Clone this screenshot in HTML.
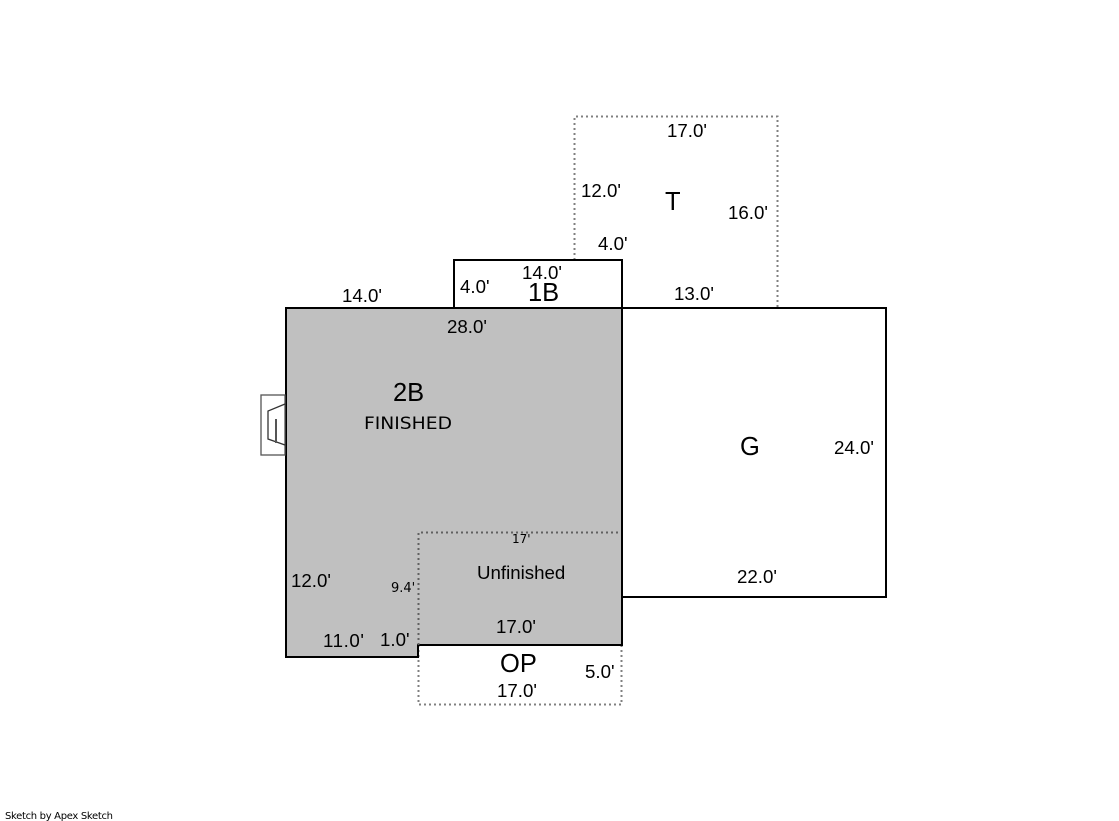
<!DOCTYPE html>
<html>
<head>
<meta charset="utf-8">
<style>
html,body{margin:0;padding:0;background:#fff;}
svg{display:block;}
text{font-family:"Liberation Sans",Arial,sans-serif;fill:#000;}
.d{font-size:18.7px;}
.l{font-size:25.500px;}
</style>
</head>
<body>
<svg width="1119" height="821" viewBox="0 0 1119 821" xmlns="http://www.w3.org/2000/svg">
<rect width="1119" height="821" fill="#fff"/>
<!-- T -->
<path d="M574.500 260V116.500H777.500V308" fill="none" stroke="#808080" stroke-width="2" stroke-dasharray="2 3"/>
<!-- OP -->
<path d="M418.500 645V704.500H621.500V645" fill="none" stroke="#808080" stroke-width="2" stroke-dasharray="2 3"/>
<!-- 2B -->
<path d="M286 308H622V645H418V657H286Z" fill="#c0c0c0" stroke="#000" stroke-width="2"/>
<!-- Unfinished -->
<path d="M418.500 645V532.500H621" fill="none" stroke="#606060" stroke-width="2" stroke-dasharray="2 3"/>
<!-- G -->
<path d="M622 308H886V597H622" fill="none" stroke="#000" stroke-width="2"/>
<!-- 1B -->
<path d="M454 308V260H622V308" fill="none" stroke="#000" stroke-width="2"/>
<!-- Fireplace -->
<rect x="261" y="395" width="24" height="60" fill="none" stroke="#555" stroke-width="1.300"/>
<path d="M285 404L268 411V439L285 445" fill="none" stroke="#333" stroke-width="1.300"/>
<path d="M276 419V443" fill="none" stroke="#555" stroke-width="2"/>
<!-- T labels -->
<text class="d" x="667" y="137">17.0'</text>
<text class="d" x="581" y="197">12.0'</text>
<text class="l" x="665" y="210">T</text>
<text class="d" x="728" y="219">16.0'</text>
<text class="d" x="598" y="250">4.0'</text>
<!-- 1B labels -->
<text class="d" x="522" y="279">14.0'</text>
<text class="d" x="460" y="293">4.0'</text>
<text class="l" x="528" y="301">1B</text>
<text class="d" x="674" y="300">13.0'</text>
<text class="d" x="342" y="302">14.0'</text>
<text class="d" x="447" y="333">28.0'</text>
<!-- 2B labels -->
<text class="l" x="393" y="401">2B</text>
<text x="364" y="429" style="font-family:'DejaVu Sans',sans-serif;font-size:16.500px" fill="#222" textLength="88" lengthAdjust="spacingAndGlyphs">FINISHED</text>
<text class="l" x="740" y="455">G</text>
<text class="d" x="834" y="454">24.0'</text>
<text x="512" y="543" style="font-family:'DejaVu Sans',sans-serif;font-size:12px" fill="#222">17'</text>
<text class="d" x="477" y="579">Unfinished</text>
<text class="d" x="737" y="583">22.0'</text>
<text class="d" x="291" y="587">12.0'</text>
<text x="391" y="592" style="font-family:'DejaVu Sans',sans-serif;font-size:13px" fill="#222">9.4'</text>
<text class="d" x="496" y="633">17.0'</text>
<text class="d" x="323" y="647" textLength="41">11.0'</text>
<text class="d" x="380" y="646">1.0'</text>
<text class="l" x="500" y="672">OP</text>
<text class="d" x="585" y="678">5.0'</text>
<text class="d" x="497" y="697">17.0'</text>
<text x="5" y="819" style="font-family:'DejaVu Sans',sans-serif;font-size:10px" textLength="108">Sketch by Apex Sketch</text>
</svg>
</body>
</html>
